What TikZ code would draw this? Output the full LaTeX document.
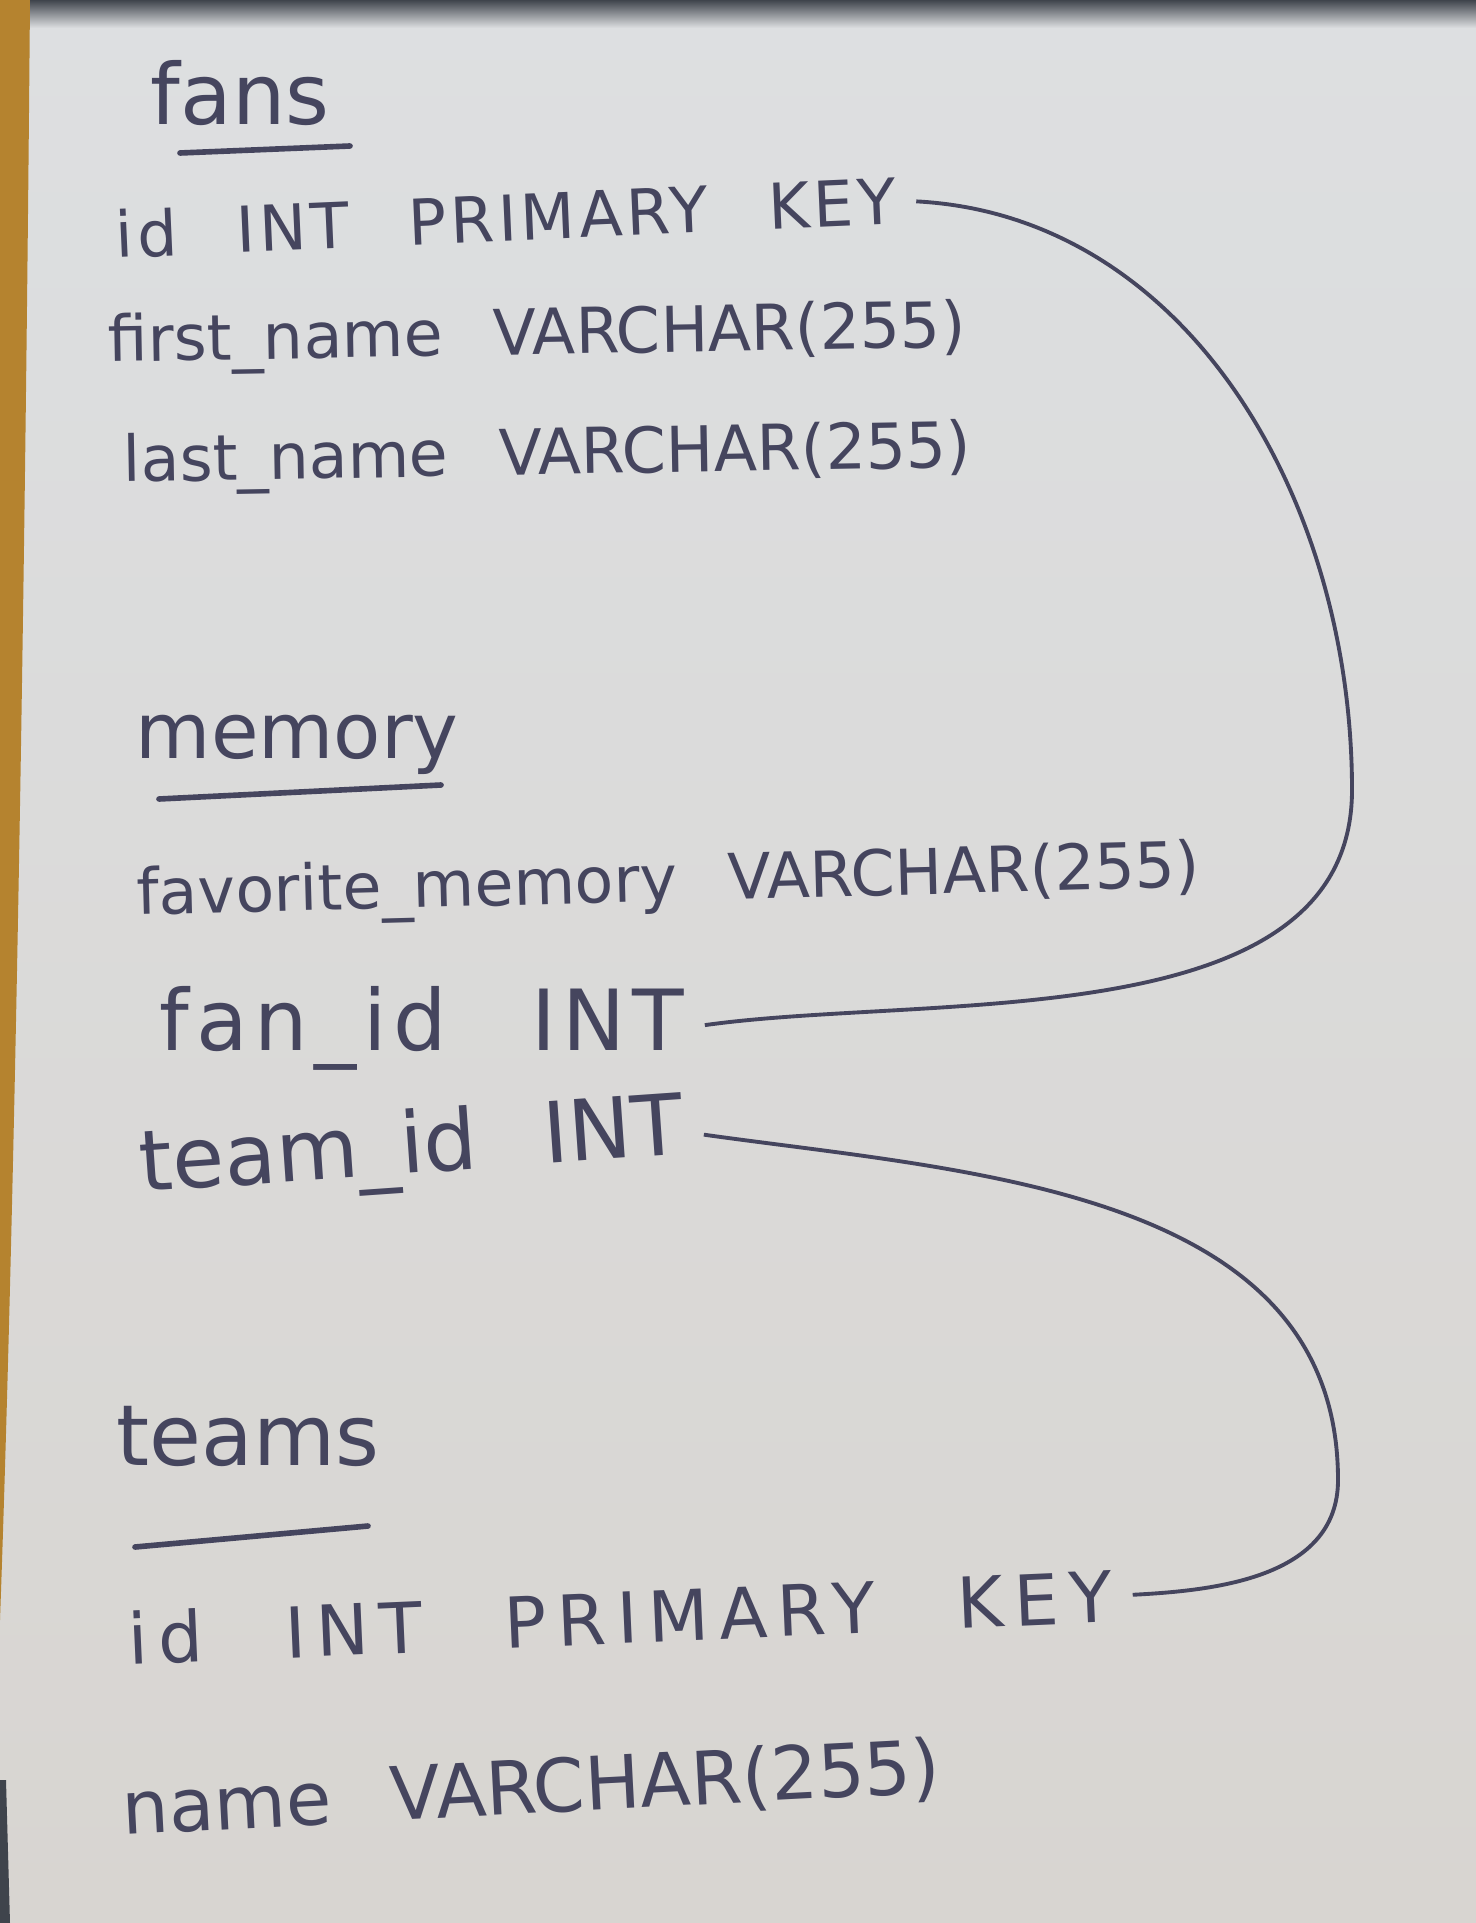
\documentclass[tikz,border=0pt]{standalone}
\usepackage{fontspec}
\setmainfont{DejaVu Sans}[WordSpace=2.5]
\newcommand{\hand}[2]{\fontsize{#1}{#1}\selectfont\addfontfeature{LetterSpace=#2}}

\definecolor{ink}{HTML}{45455E}
\definecolor{paper}{HTML}{E8E8E6}
\definecolor{paperTop}{HTML}{DDDFE1}
\definecolor{paperLow}{HTML}{D8D5D1}
\definecolor{wood}{HTML}{B5832F}
\definecolor{shadow}{HTML}{3F444C}

\tikzset{
  table/.style={anchor=base west, inner sep=0pt, text=ink},
  field/.style={anchor=base west, inner sep=0pt, text=ink},
  link/.style={draw=ink, line width=1.1pt, shorten <=0.2cm, shorten >=0.2cm},
  underline/.style={draw=ink, line width=1.6pt, line cap=round},
}

\begin{document}
\begin{tikzpicture}
    % sheet of paper
    \useasboundingbox (0,0) rectangle (14.76,-19.23);
    \shade[top color=paperTop, middle color=paper, bottom color=paperLow] (0,0) rectangle (14.76,-19.23);
    \shade[top color=shadow, bottom color=paperTop] (0,0) rectangle (14.76,-0.28);
    \fill[wood] (0,0) -- (0.30,0) .. controls (0.25,-6) and (0.15,-12) .. (0,-16.2) -- cycle;
    \fill[shadow] (0,-17.8) -- (0.06,-17.8) -- (0.1,-19.23) -- (0,-19.23) -- cycle;

    % fans
    \node[table, font=\hand{24}{0}] (fansTitle) at (1.50,-1.25) {fans};
    \draw[underline] (1.80,-1.53) -- (3.50,-1.46);
    \node[field, font=\hand{18}{6}, rotate=2.5] (fansId) at (1.16,-2.58) {id INT PRIMARY KEY};
    \node[field, font=\hand{18}{0}, rotate=1] (fansFirst) at (1.08,-3.62) {first\_name VARCHAR(255)};
    \node[field, font=\hand{18}{0}, rotate=1] (fansLast) at (1.23,-4.82) {last\_name VARCHAR(255)};

    % memory
    \node[table, font=\hand{22}{0}] (memTitle) at (1.35,-7.58) {memory};
    \draw[underline] (1.59,-7.99) -- (4.41,-7.85);
    \node[field, font=\hand{18}{0}, rotate=1.5] (memFav) at (1.37,-9.15) {favorite\_memory VARCHAR(255)};
    \node[field, font=\hand{24}{8}] (memFan) at (1.59,-10.50) {fan\_id INT};
    \node[field, font=\hand{24}{0}, rotate=4] (memTeam) at (1.41,-11.92) {team\_id INT};

    % teams
    \node[table, font=\hand{24}{0}] (teamsTitle) at (1.16,-14.65) {teams};
    \draw[underline] (1.35,-15.47) -- (3.68,-15.26);
    \node[field, font=\hand{20}{15}, rotate=2.5] (teamsId) at (1.29,-16.65) {id INT PRIMARY KEY};
    \node[field, font=\hand{21}{0}, rotate=3] (teamsName) at (1.23,-18.35) {name VARCHAR(255)};

    % keys
    \coordinate (fanBend) at (13.52,-7.90);
    \coordinate (teamBend) at (13.38,-14.80);
    \draw[link] (fansId.east) to[out=-3,in=90] (fanBend) to[out=-90,in=8,looseness=0.9] (memFan.east);
    \draw[link] (memTeam.east) to[out=-8,in=90] (teamBend) to[out=-90,in=3] (teamsId.east);
\end{tikzpicture}
\end{document}
